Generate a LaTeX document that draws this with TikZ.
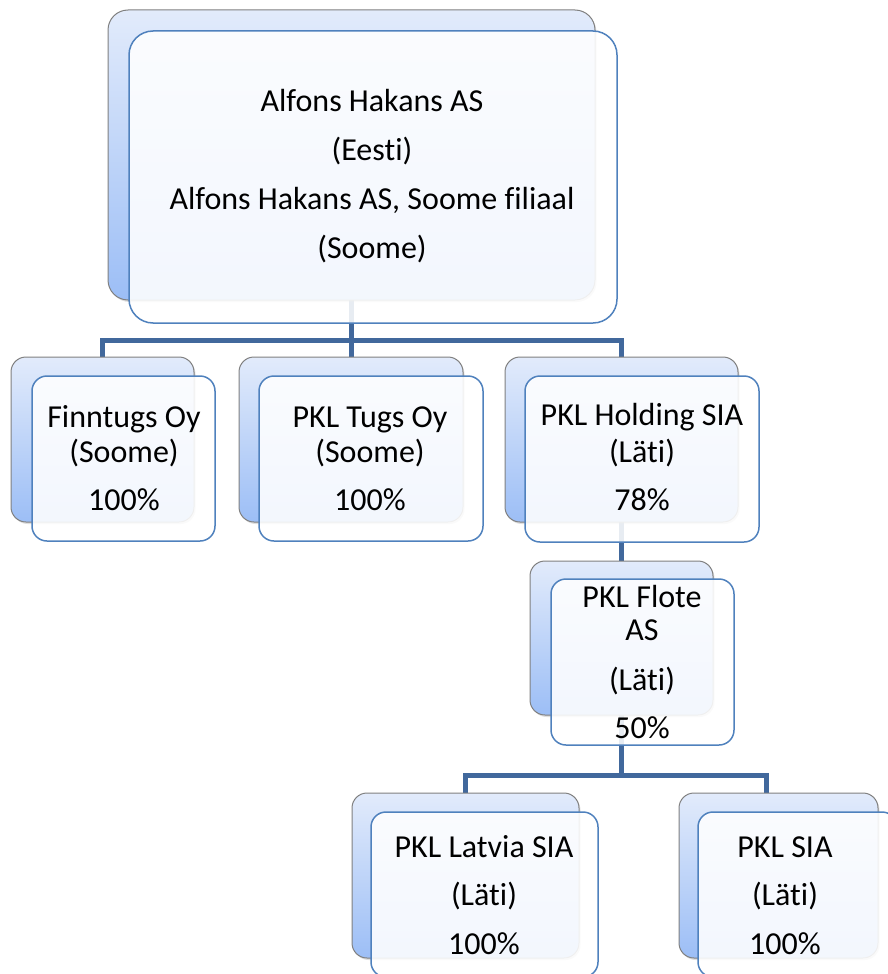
\documentclass[tikz,border=0pt]{standalone}
\usepackage{fontspec}
\setmainfont{Carlito}[Ligatures={NoCommon}]
\usetikzlibrary{shadows}
\definecolor{connblue}{HTML}{41689C}
\definecolor{frontblue}{HTML}{4F81BD}
\definecolor{backtop}{HTML}{E2EBFB}
\definecolor{backbot}{HTML}{9CBEF6}
\definecolor{backedge}{HTML}{808080}
\pgfdeclarelayer{bg}
\pgfsetlayers{bg,main}
\begin{document}
\begin{tikzpicture}[x=1pt,y=-1pt,
  backbox/.style={rectangle, draw=backedge, line width=1pt, top color=backtop, bottom color=backbot,
    drop shadow={opacity=0.25, shadow xshift=1.5pt, shadow yshift=-2pt}, inner sep=0pt, outer sep=0pt},
  frontbox/.style={rectangle, draw=frontblue, line width=1.5pt, fill=white, fill opacity=0.88,
    inner sep=0pt, outer sep=0pt},
  txt/.style={align=center, inner sep=0pt, font=\fontsize{32}{35}\selectfont, text=black},
  conn/.style={draw=connblue, line width=5pt}]
\useasboundingbox (0,0) rectangle (888,974);

% main
\node[backbox, rounded corners=20pt, minimum width=487pt, minimum height=290pt] (mainback) at (351.5,155) {};
\node[frontbox, rounded corners=24pt, minimum width=488pt, minimum height=292pt] (mainfront) at (373,177) {};
\node[txt] (maintext) at (372,176) {Alfons Hakans AS\\[14pt](Eesti)\\[14pt]Alfons Hakans AS, Soome filiaal\\[14pt](Soome)};

% Finntugs
\node[backbox, rounded corners=15pt, minimum width=183pt, minimum height=165pt] (finback) at (102.5,439.5) {};
\node[frontbox, rounded corners=15pt, minimum width=183pt, minimum height=165pt] (finfront) at (123.5,458.5) {};
\node[txt] (fintext) at (124,458.5) {Finntugs Oy\\(Soome)\\[13pt]100\%};

% PKL Tugs
\node[backbox, rounded corners=15pt, minimum width=224pt, minimum height=165pt] (tugsback) at (351,439.5) {};
\node[frontbox, rounded corners=15pt, minimum width=224pt, minimum height=165pt] (tugsfront) at (371,458.5) {};
\node[txt] (tugstext) at (370,458.5) {PKL Tugs Oy\\(Soome)\\[13pt]100\%};

% PKL Holding
\node[backbox, rounded corners=15pt, minimum width=233pt, minimum height=165pt] (holdback) at (621.5,439.5) {};
\node[frontbox, rounded corners=15pt, minimum width=234pt, minimum height=166pt] (holdfront) at (642,459) {};
\node[txt] (holdtext) at (642,457.5) {PKL Holding SIA\\[2pt](Läti)\\[13pt]78\%};

% PKL Flote
\node[backbox, rounded corners=15pt, minimum width=183pt, minimum height=154pt] (floteback) at (621.5,638) {};
\node[frontbox, rounded corners=15pt, minimum width=183pt, minimum height=166pt] (flotefront) at (642.5,662) {};
\node[txt] (flotetext) at (642,662.5) {PKL Flote\\[-2pt]AS\\[15pt](Läti)\\[13pt]50\%};

% PKL Latvia
\node[backbox, rounded corners=15pt, minimum width=227pt, minimum height=165pt] (latback) at (465.5,875.5) {};
\node[frontbox, rounded corners=15pt, minimum width=227pt, minimum height=165pt] (latfront) at (484.5,894.5) {};
\node[txt] (lattext) at (484,895.5) {PKL Latvia SIA\\[13pt](Läti)\\[14pt]100\%};

% PKL SIA
\node[backbox, rounded corners=15pt, minimum width=199pt, minimum height=165pt] (siaback) at (778.5,875.5) {};
\node[frontbox, rounded corners=15pt, minimum width=199pt, minimum height=165pt] (siafront) at (797.5,894.5) {};
\node[txt] (siatext) at (785,895.5) {PKL SIA\\[13pt](Läti)\\[14pt]100\%};

\begin{pgfonlayer}{bg}
  \coordinate (bus1) at (350,340);
  \draw[conn] (finback.north) |- (bus1) -| (holdback.north);
  \draw[conn] (mainback.south) -- (mainback.south |- tugsback.north);
  \draw[conn] (holdback.south) -- (floteback.north);
  \coordinate (bus2) at (622,775);
  \coordinate (siadrop) at (766,793);
  \draw[conn] (latback.north) |- (bus2) -| (siadrop);
  \draw[conn] (floteback.south) -- (floteback.south |- bus2);
\end{pgfonlayer}
\end{tikzpicture}
\end{document}
